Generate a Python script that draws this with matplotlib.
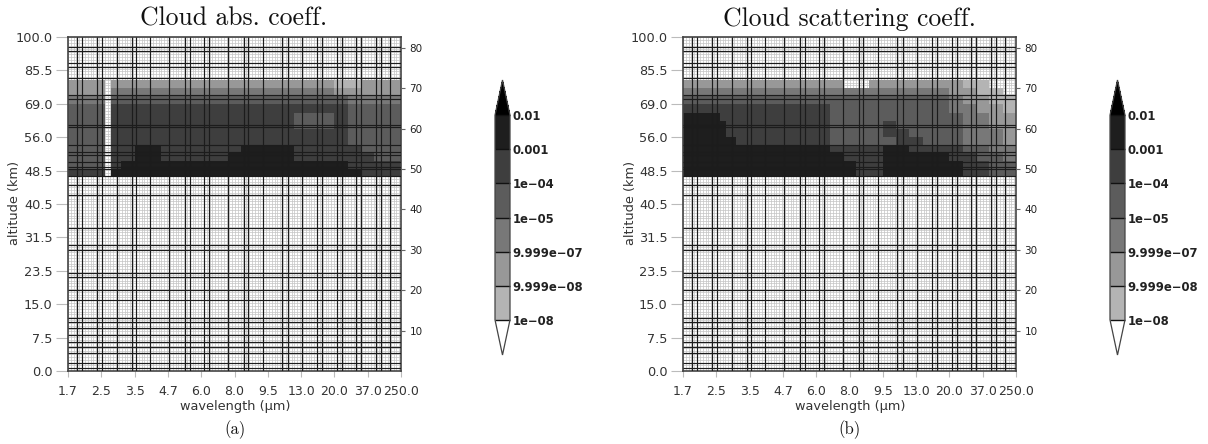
import numpy as np
import matplotlib
matplotlib.use('Agg')
import matplotlib.pyplot as plt
from matplotlib.colors import BoundaryNorm, ListedColormap

W = 1208
H = 444

# tick labels
wavelength_labels = ['1.7', '2.5', '3.5', '4.7', '6.0', '8.0', '9.5', '13.0', '20.0', '37.0', '250.0']
altitude_labels = ['0.0', '7.5', '15.0', '23.5', '31.5', '40.5', '48.5', '56.0', '69.0', '85.5', '100.0']
layer_ticks = [10, 20, 30, 40, 50, 60, 70, 80]

# spectral band and layer grid of the model
band_lines = [2.7, 4.2, 8.7, 10.2, 14.7, 19.2, 20.4, 24.6, 30.3, 35.1, 36.6, 40.8, 42.3, 48, 52.8, 54,
              58.5, 64.2, 66, 70.2, 74.7, 76.2, 80.7, 82.2, 86.4, 87.9, 92.4, 93.9, 96.6]
layer_lines = [0.7, 2, 4.5, 5.9, 7.2, 8.9, 10.6, 12.1, 13.1, 17.6, 20, 23.3, 24.3, 30, 31.2, 35.4, 43.6, 46,
               48.3, 50, 50.5, 51.7, 53.5, 54.2, 55.9, 60.4, 60.9, 67.3, 68.3, 72.5, 75.2, 76.2, 79.2, 80.2]

# colour bar
levels = [1e-8, 9.999e-8, 9.999e-7, 1e-5, 1e-4, 1e-3, 1e-2]
level_labels = ['1e\u221208', '9.999e\u221208', '9.999e\u221207', '1e\u221205', '1e\u221204', '0.001', '0.01']
greys = ['#b4b4b4', '#989898', '#787878', '#5c5c5c', '#3e3e3e', '#1e1e1e']

# cell edges of the coefficient tables
col_edges = [0, 4, 8, 11, 12.8, 16, 20, 24, 28, 32, 36, 40, 44, 48, 52, 56, 60, 64, 68, 72, 76, 80, 84, 88, 92, 96, 100]
row_edges = [72, 70, 68, 66, 64, 62, 60, 58, 56, 54, 52, 50, 48]

n = None
# decade of the coefficient per layer (rows, top to bottom) and band group (columns)
abs_coeff = [
    [-7, -7, -7, n, -7, -7, -7, -7, -7, -7, -7, -7, -7, -7, -7, -7, -7, -7, -7, -7, -7, -8, -8, -7, -7, -7],
    [-7, -7, -7, n, -6, -6, -6, -6, -6, -6, -6, -6, -6, -6, -6, -6, -6, -6, -6, -6, -6, -7, -7, -7, -7, -7],
    [-6, -6, -6, n, -5, -5, -5, -5, -5, -5, -5, -5, -5, -5, -5, -5, -5, -5, -5, -5, -5, -5, -6, -6, -6, -6],
    [-5, -5, -5, n, -4, -4, -4, -4, -4, -4, -4, -4, -4, -4, -4, -4, -4, -4, -4, -4, -4, -4, -5, -5, -5, -5],
    [-5, -5, -5, n, -4, -4, -4, -4, -4, -4, -4, -4, -4, -4, -4, -4, -4, -4, -5, -5, -5, -4, -5, -5, -5, -5],
    [-5, -5, -5, n, -4, -4, -4, -4, -4, -4, -4, -4, -4, -4, -4, -4, -4, -4, -5, -5, -5, -4, -5, -5, -5, -5],
    [-5, -5, -5, n, -4, -4, -4, -4, -4, -4, -4, -4, -4, -4, -4, -4, -4, -4, -4, -4, -4, -4, -5, -5, -5, -5],
    [-5, -5, -5, n, -4, -4, -4, -4, -4, -4, -4, -4, -4, -4, -4, -4, -4, -4, -4, -4, -4, -4, -5, -5, -5, -5],
    [-5, -5, -5, n, -4, -4, -3, -3, -4, -4, -4, -4, -4, -4, -3, -3, -3, -3, -4, -4, -4, -4, -4, -5, -5, -5],
    [-5, -5, -5, n, -4, -4, -3, -3, -4, -4, -4, -4, -4, -3, -3, -3, -3, -3, -4, -4, -4, -4, -4, -4, -5, -5],
    [-5, -5, -5, n, -4, -3, -3, -3, -3, -3, -3, -3, -3, -3, -3, -3, -3, -3, -3, -3, -3, -3, -4, -4, -4, -4],
    [-4, -4, -4, n, -3, -3, -3, -3, -3, -3, -3, -3, -3, -3, -3, -3, -3, -3, -3, -3, -3, -3, -3, -4, -4, -4],
]
sca_coeff = [
    [-7, -7, -7, -7, -7, -7, -7, -7, -7, -7, -7, -7, -7, n, n, -7, -7, -7, -7, -7, -7, -7, -8, -8, n, n],
    [-6, -6, -6, -6, -6, -6, -6, -6, -6, -6, -6, -6, -6, -6, -6, -6, -6, -6, -6, -6, -6, -7, -7, -8, -8, n],
    [-5, -5, -5, -5, -5, -5, -5, -5, -5, -5, -5, -5, -5, -5, -5, -5, -5, -5, -5, -5, -5, -6, -7, -7, -8, -8],
    [-4, -4, -4, -4, -4, -4, -4, -4, -4, -4, -4, -4, -5, -5, -5, -5, -5, -5, -5, -5, -5, -6, -6, -7, -7, -8],
    [-3, -3, -3, -4, -4, -4, -4, -4, -4, -4, -4, -4, -5, -5, -5, -5, -5, -5, -5, -5, -5, -5, -6, -6, -7, -7],
    [-3, -3, -3, -3, -4, -4, -4, -4, -4, -4, -4, -4, -5, -5, -5, -5, -4, -5, -5, -5, -5, -5, -6, -6, -7, -7],
    [-3, -3, -3, -3, -4, -4, -4, -4, -4, -4, -4, -4, -5, -5, -5, -5, -4, -4, -5, -5, -5, -5, -6, -6, -6, -7],
    [-3, -3, -3, -3, -3, -4, -4, -4, -4, -4, -4, -4, -5, -5, -5, -5, -5, -4, -4, -5, -5, -5, -6, -6, -6, -7],
    [-3, -3, -3, -3, -3, -3, -3, -3, -3, -3, -3, -3, -4, -4, -4, -4, -3, -3, -4, -4, -4, -4, -5, -5, -6, -6],
    [-3, -3, -3, -3, -3, -3, -3, -3, -3, -3, -3, -3, -3, -4, -4, -4, -3, -3, -3, -3, -3, -4, -4, -5, -5, -6],
    [-3, -3, -3, -3, -3, -3, -3, -3, -3, -3, -3, -3, -3, -3, -4, -4, -3, -3, -3, -3, -3, -3, -4, -4, -5, -5],
    [-3, -3, -3, -3, -3, -3, -3, -3, -3, -3, -3, -3, -3, -3, -4, -4, -3, -3, -3, -3, -3, -3, -4, -4, -5, -5],
]


def box(x0, y0, x1, y1):
    # pixel box, y measured from the top, to figure fractions
    return [x0 / W, 1 - y1 / H, (x1 - x0) / W, (y1 - y0) / H]


def draw_panel(fig, table, title, letter, dx):
    ax = fig.add_axes(box(68 + dx, 37, 401 + dx, 371))

    cmap = ListedColormap(greys)
    cmap.set_under((1, 1, 1, 0))
    cmap.set_over('black')
    cmap.set_bad((1, 1, 1, 0))
    norm = BoundaryNorm(levels, cmap.N)

    values = np.array(table, dtype=float)
    mesh = ax.pcolormesh(col_edges, row_edges, 10.0 ** (values + 0.5), cmap=cmap, norm=norm, zorder=2)

    ax.set_xlim(0, 100)
    ax.set_ylim(0, 82.7)

    # fine grid under the cloud, darker model lines on top
    ax.vlines(np.arange(0, 100, 0.85), 0, 82.7, color='#c4c4c4', lw=0.5, zorder=1)
    ax.hlines(np.arange(0, 82.7, 0.7), 0, 100, color='#c4c4c4', lw=0.5, zorder=1)
    ax.vlines(band_lines, 0, 82.7, color='#1c1c1c', lw=0.85, zorder=3)
    ax.hlines(layer_lines, 0, 100, color='#1c1c1c', lw=0.85, zorder=3)

    ax.set_xticks(np.linspace(0, 100, len(wavelength_labels)))
    ax.set_xticklabels(wavelength_labels, fontsize=9, color='#333333')
    ax.set_yticks(np.linspace(0, 82.7, len(altitude_labels)))
    ax.set_yticklabels(altitude_labels, fontsize=9.3, color='#333333')
    ax.tick_params(axis='both', length=9, width=0.8, color='#bbbbbb', pad=2)
    ax.tick_params(axis='x', length=4, pad=6)
    for s in ax.spines.values():
        s.set_color('#444444')
        s.set_linewidth(1.2)

    right = ax.twinx()
    right.set_ylim(0, 82.7)
    right.set_yticks(layer_ticks)
    right.set_yticklabels(layer_ticks, fontsize=7.5, color='#222222')
    right.tick_params(axis='y', length=3, width=0.8, color='#666666', pad=3)
    for s in right.spines.values():
        s.set_visible(False)

    fig.text((234 + dx) / W, 1 - 19 / H, title, family='cmr10', fontsize=18.5, ha='center', va='center', color='#111111')
    fig.text((235 + dx) / W, 1 - 406 / H, 'wavelength (\u00b5m)', fontsize=9.3, ha='center', va='center', color='#333333')
    fig.text((15 + dx) / W, 1 - 203 / H, 'altitude (km)', fontsize=9.3, rotation=90, ha='center', va='center', color='#333333')
    fig.text((235 + dx) / W, 1 - 430 / H, letter, family='cmr10', fontsize=12, ha='center', va='center', color='#111111')

    cax = fig.add_axes(box(495 + dx, 80, 510 + dx, 355))
    cb = fig.colorbar(mesh, cax=cax, extend='both', extendfrac=0.172, drawedges=True, ticks=levels)
    cb.ax.set_yticklabels(level_labels, fontsize=8.4, fontweight='bold', color='#222222')
    cb.ax.tick_params(length=0, pad=2)
    cb.outline.set_edgecolor('#444444')
    cb.outline.set_linewidth(0.9)
    cb.dividers.set_color('#111111')
    cb.dividers.set_linewidth(1.0)


fig = plt.figure(figsize=(W / 100, H / 100), dpi=100)
draw_panel(fig, abs_coeff, 'Cloud abs. coeff.', '(a)', 0)
draw_panel(fig, sca_coeff, 'Cloud scattering coeff.', '(b)', 615)
fig.savefig('out.png', dpi=100)
